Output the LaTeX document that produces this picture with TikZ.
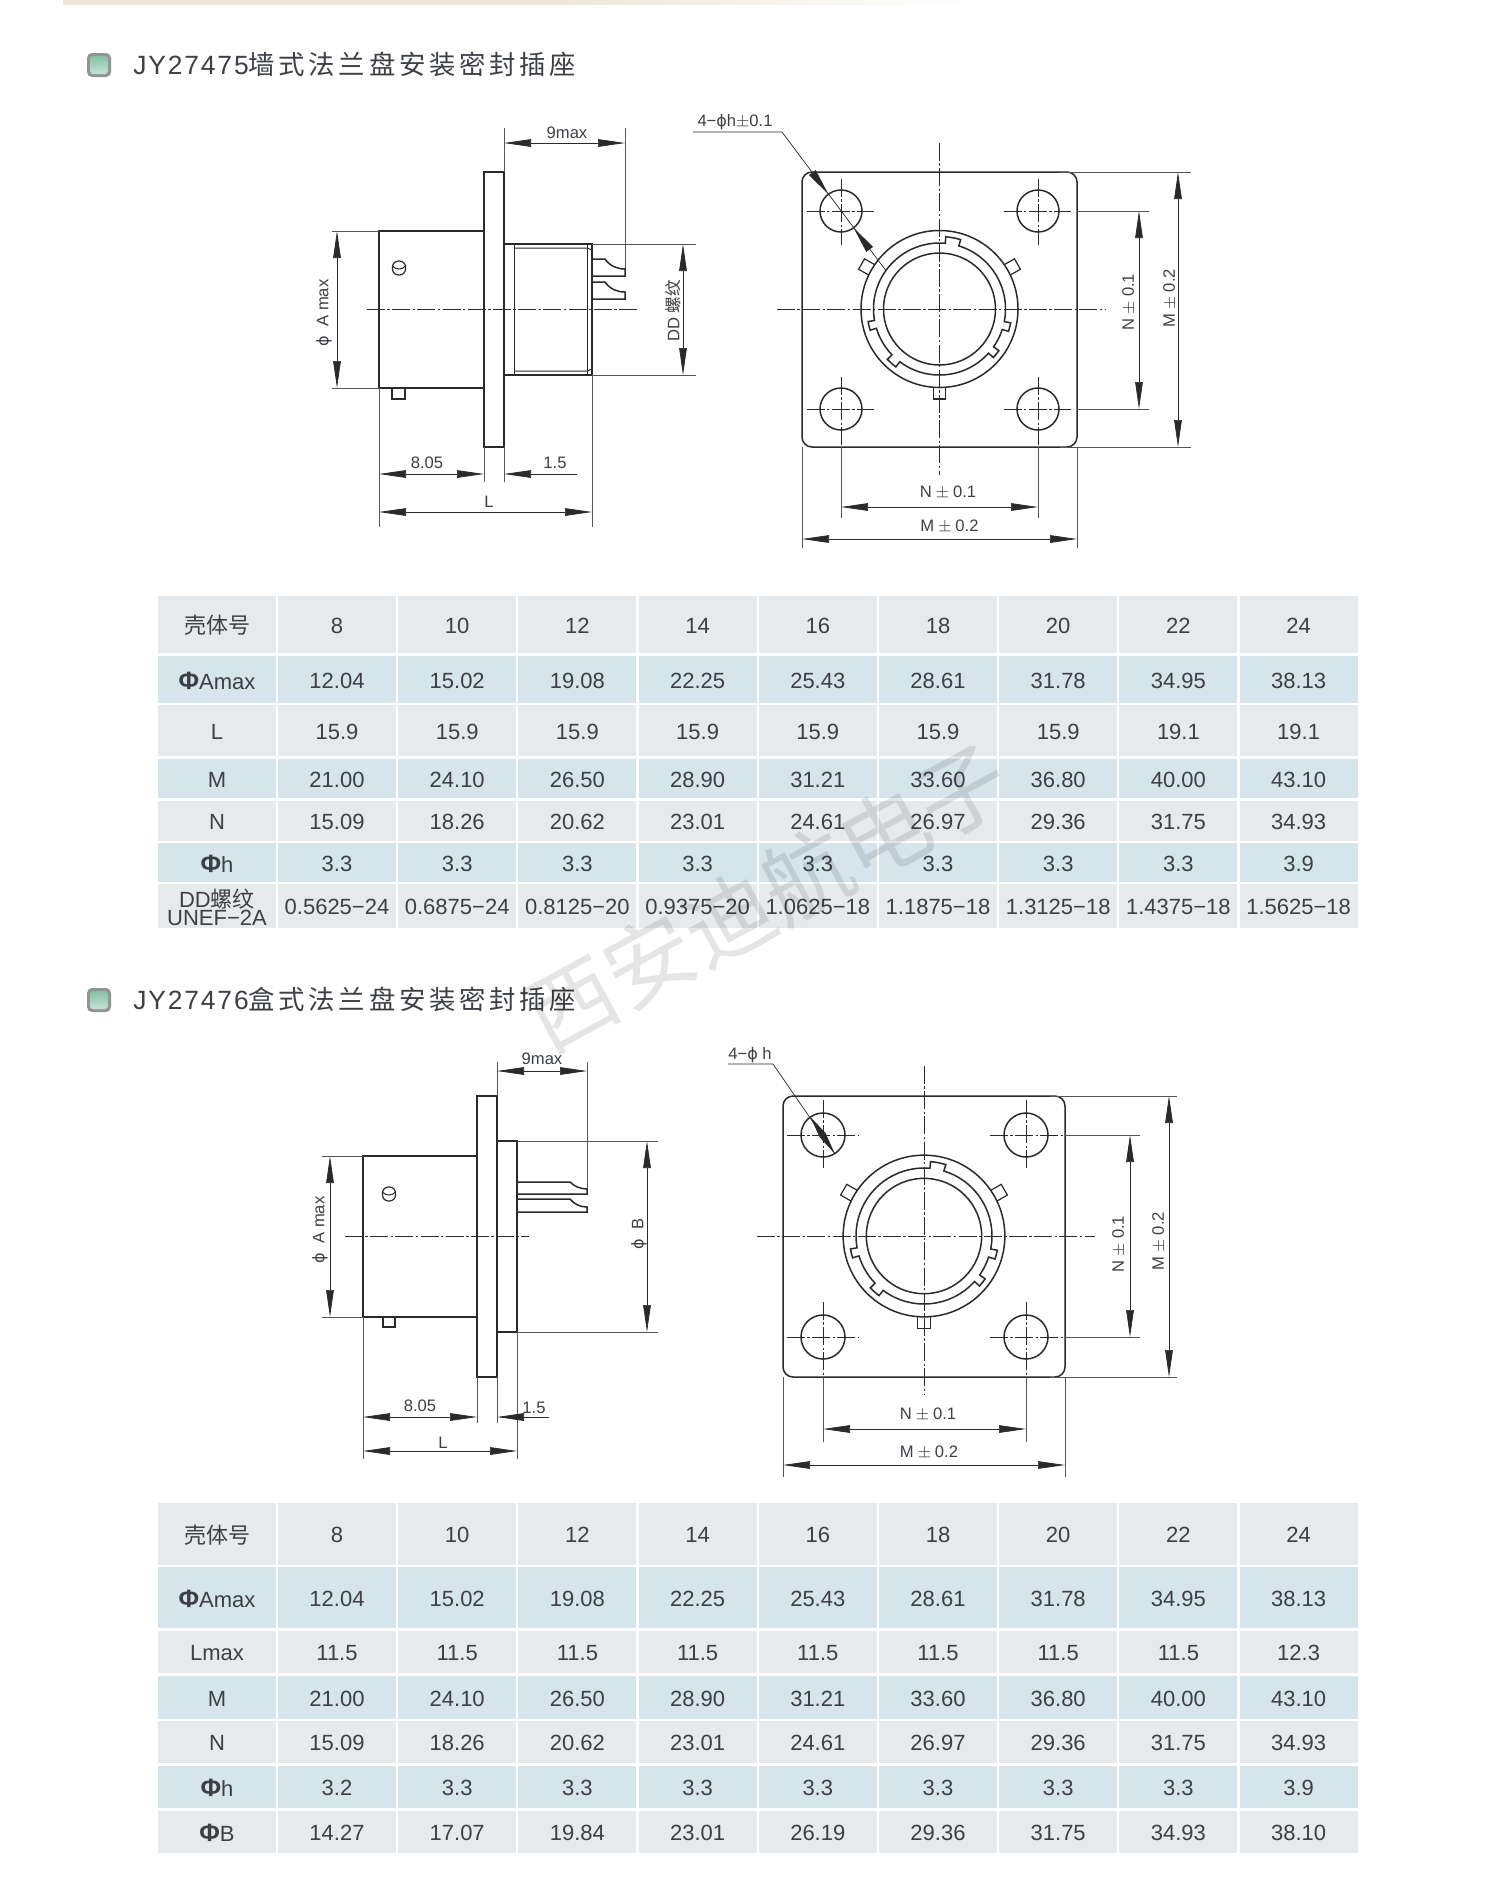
\documentclass[tikz,border=0pt]{standalone}
\usepackage{fontspec}
\setmainfont{Liberation Sans}
\newfontfamily\cjk{Noto Sans CJK SC}
\newfontfamily\cjkt[LetterSpace=14]{Noto Sans CJK SC}
\newfontfamily\latt[LetterSpace=7]{Liberation Sans}
\newfontfamily\phifont{DejaVu Sans}
\usetikzlibrary{arrows.meta,calc}
\definecolor{ink}{HTML}{3C4044}
\definecolor{rowgray}{HTML}{E6EAEC}
\definecolor{rowblue}{HTML}{D6E4EB}
\definecolor{linec}{HTML}{2A2A2A}
\definecolor{bandc}{HTML}{EDE6D6}
\definecolor{icongreen}{HTML}{86BFA6}
\definecolor{iconlight}{HTML}{C4E4D6}
\tikzset{
  part/.style={draw=linec,line width=0.75pt},
  thin part/.style={draw=linec,line width=0.5pt},
  dimline/.style={draw=linec,line width=0.35pt},
  extline/.style={draw=linec!80,line width=0.35pt},
  centerline/.style={draw=linec,line width=0.35pt,dash pattern=on 9pt off 1.2pt on 1.2pt off 1.2pt},
  dimarrow/.style={dimline,{Triangle[length=13.5pt,width=3.8pt]}-{Triangle[length=13.5pt,width=3.8pt]}},
  onearrow/.style={dimline,-{Triangle[length=13.5pt,width=3.8pt]}},
  dimtext/.style={text=ink,font=\fontsize{8.3}{9}\selectfont,inner sep=0pt},
  title/.style={text=ink,anchor=west,inner sep=0pt,font=\fontsize{13.2}{15}\selectfont},
  cell/.style={text=ink,inner sep=0pt,font=\fontsize{11}{11}\selectfont,align=center},
}
\newcommand\ph{{\phifont\fontsize{8}{8}\selectfont ϕ}}
\newcommand\PH{{\fontsize{12.5}{11}\selectfont\textbf{Φ}}}
\newcommand\pmgap{\hspace{2pt}$\pm$\hspace{2pt}}
% one table row: top, bottom, fill, name, cells
\newcommand\trow[5]{%
  \foreach \cellv [count=\ci from 0] in {#5} {
    \pgfmathsetmacro\xa{\ci==0?158:278+120.2*(\ci-1)}
    \pgfmathsetmacro\xb{\ci==0?276:396+120.2*(\ci-1)}
    \fill[#3] (\xa,#1) rectangle (\xb,#2);
    \node[cell] (#4c\ci) at ({(\xa+\xb)/2},{(#1+#2)/2+1}) {\cellv};
  }
}
% connector front view, local y-up coordinates
\newcommand\ringfig{%
  \draw[part] (0,0) circle (78.5);
  \draw[part] (0,0) circle (56);
  \draw[part] (85:66) arc[start angle=85,end angle=190,radius=66]
    -- (190:72.5) arc[start angle=190,end angle=197,radius=72.5]
    -- (197:66) arc[start angle=197,end angle=224,radius=66]
    -- (224:72.5) arc[start angle=224,end angle=233,radius=72.5]
    -- (233:66) arc[start angle=233,end angle=318,radius=66]
    -- (318:72.5) arc[start angle=318,end angle=325,radius=72.5]
    -- (325:66) arc[start angle=325,end angle=342,radius=66]
    -- (342:72.5) arc[start angle=342,end angle=349,radius=72.5]
    -- (349:66) arc[start angle=349,end angle=433,radius=66]
    -- (73:72.5) arc[start angle=73,end angle=85,radius=72.5] -- cycle;
  \foreach \a in {30,150,270} {
    \begin{scope}[rotate=-\a]
      \draw[part,line width=0.6pt] (78,-6) -- (90,-6) -- (90,6) -- (78,6);
    \end{scope}
  }
}
\begin{document}
\begin{tikzpicture}[x=0.5pt,y=-0.5pt]
\useasboundingbox (0,0) rectangle (1506,1903);
\fill[white] (0,0) rectangle (1506,1903);
\shade[left color=bandc,right color=white,middle color=bandc] (63,0) rectangle (985,4);

% ---- titles
\foreach \ya in {53,988} {
  \fill[gray!85,rounded corners=2.5pt] (87,\ya) rectangle (111,\ya+24);
  \shade[top color=icongreen,bottom color=iconlight,rounded corners=1.5pt] (90,\ya+3) rectangle (108,\ya+21);
}
\node[title] (title1) at (133,64) {{\latt JY27475}{\cjkt 墙式法兰盘安装密封插座}};
\node[title] (title2) at (133,999) {{\latt JY27476}{\cjkt 盒式法兰盘安装密封插座}};

% ---- first side view
\draw[part] (484,231) -- (379,231) -- (379,388) -- (484,388);
\draw[part] (484,172) rectangle (504,447);
\draw[part] (504,244) -- (592,244) -- (592,375) -- (504,375);
\draw[thin part] (514,244) -- (514,375);
\draw[thin part] (587,244) -- (587,375);
\draw[thin part] (514,248) -- (587,248) -- (592,250);
\draw[thin part] (514,371) -- (587,371) -- (592,369);
\draw[part] (592,259) -- (605,259) .. controls (610,266) and (617,269) .. (625,269) -- (625,276) -- (592,276);
\draw[part] (592,282) -- (605,282) .. controls (610,289) and (617,292) .. (625,292) -- (625,299) -- (592,299);
\draw[centerline] (367,309) -- (639,309);
\draw[part,line width=0.6pt] (392,388) -- (392,399) -- (405,399) -- (405,388);
\draw[part,line width=0.6pt,rounded corners=3pt] (392.5,261) rectangle (405.5,275);
\draw[part,line width=0.5pt] (392.5,266) .. controls (396,270) and (402,270) .. (405.5,266);
% dimensions
\draw[extline] (504,172) -- (504,128) (625,269) -- (625,128);
\draw[dimarrow] (504,143) -- (625,143);
\node[dimtext] (a9) at (567,133) {9max};
\draw[extline] (379,231) -- (332,231) (379,388) -- (332,388);
\draw[dimarrow] (337,231) -- (337,388);
\node[dimtext,rotate=90] (aA) at (324,313) {\ph\ \ A max};
\draw[extline] (592,244) -- (696,244) (592,375) -- (696,375);
\draw[dimarrow] (683,244) -- (683,375);
\node[dimtext,rotate=90] (aDD) at (673,311) {DD {\cjk 螺纹}};
\draw[extline] (379,388) -- (379,527) (484,447) -- (484,482) (504,447) -- (504,482) (592,375) -- (592,527);
\draw[dimarrow] (379,474) -- (484,474);
\node[dimtext] (a805) at (427,463) {8.05};
\draw[onearrow] (577,474) -- (504,474);
\node[dimtext] (a15) at (555,463) {1.5};
\draw[dimarrow] (379,512) -- (592,512);
\node[dimtext] (aL) at (489,502) {L};

% ---- first front view
\draw[part,rounded corners=5pt] (802,172) rectangle (1077,447);
\begin{scope}[shift={(939.5,309)},yscale=-1]
  \ringfig
\end{scope}
\foreach \hx/\hy in {841/211,1038/211,841/409,1038/409} {
  \draw[part] (\hx,\hy) circle (21);
}
\draw[centerline] (777,309) -- (1105.5,309);
\draw[centerline] (939.5,143) -- (939.5,475);
\draw[centerline] (806.5,211) -- (873.5,211) (1003.5,211) -- (1071,211);
\draw[centerline] (806.5,409) -- (873.5,409) (1003.5,409) -- (1071,409);
\draw[centerline] (841,179) -- (841,245) (1038,179) -- (1038,245);
\draw[centerline] (841,377) -- (841,447) (1038,377) -- (1038,447);
% leader
\coordinate (lda) at (693,132);
\coordinate (ldb) at (782,132);
\coordinate (ldc) at (885.5,270);
\draw[dimline] (lda) -- (ldb) -- (ldc);
\fill[linec] (828.4,194.2) -- ($(812.3,172.6)+(3.4,-2.5)$) -- ($(812.3,172.6)+(-3.4,2.5)$) -- cycle;
\fill[linec] (853.6,227.8) -- ($(869.7,249.4)+(3.4,-2.5)$) -- ($(869.7,249.4)+(-3.4,2.5)$) -- cycle;
\node[dimtext] (ah) at (735,122) {4−\ph h$\pm$0.1};
% dims
\draw[extline] (1077,211) -- (1148.5,211) (1077,409) -- (1148.5,409);
\draw[dimarrow] (1139,211) -- (1139,409);
\node[dimtext,rotate=90] (aN) at (1129,302) {N\pmgap 0.1};
\draw[extline] (1060,172) -- (1190.5,172) (1060,447) -- (1190.5,447);
\draw[dimarrow] (1178,172) -- (1178,447);
\node[dimtext,rotate=90] (aM) at (1170,298) {M\pmgap 0.2};
\draw[extline] (841,447) -- (841,518) (1038,447) -- (1038,518);
\draw[dimarrow] (841,507) -- (1038,507);
\node[dimtext] (aN2) at (948,493) {N\pmgap 0.1};
\draw[extline] (802,447) -- (802,548) (1077,447) -- (1077,548);
\draw[dimarrow] (802,539) -- (1077,539);
\node[dimtext] (aM2) at (949.5,527) {M\pmgap 0.2};

% ---- first table
\trow{596}{653}{rowgray}{ta}{{\cjk 壳体号},8,10,12,14,16,18,20,22,24}
\trow{656}{703}{rowblue}{tb}{\PH Amax,12.04,15.02,19.08,22.25,25.43,28.61,31.78,34.95,38.13}
\trow{705}{756}{rowgray}{tc}{L,15.9,15.9,15.9,15.9,15.9,15.9,15.9,19.1,19.1}
\trow{759}{798}{rowblue}{td}{M,21.00,24.10,26.50,28.90,31.21,33.60,36.80,40.00,43.10}
\trow{801}{841}{rowgray}{te}{N,15.09,18.26,20.62,23.01,24.61,26.97,29.36,31.75,34.93}
\trow{843}{882}{rowblue}{tf}{\PH h,3.3,3.3,3.3,3.3,3.3,3.3,3.3,3.3,3.9}
\trow{884}{928}{rowgray}{tg}{{DD{\cjk 螺纹}\\[-2pt]UNEF−2A},0.5625−24,0.6875−24,0.8125−20,0.9375−20,1.0625−18,1.1875−18,1.3125−18,1.4375−18,1.5625−18}

% ---- second side view
\draw[part] (477,1156) -- (363,1156) -- (363,1317) -- (477,1317);
\draw[part] (477,1096) rectangle (497,1377);
\draw[part] (497,1141) rectangle (517,1332);
\draw[part] (517,1182) -- (570,1182) .. controls (574,1186) and (580,1189) .. (587,1189) -- (587,1194) -- (517,1194);
\draw[part] (517,1199) -- (570,1199) .. controls (574,1204) and (580,1207) .. (587,1207) -- (587,1212) -- (517,1212);
\draw[centerline] (345,1236) -- (529,1236);
\draw[part,line width=0.6pt] (383,1317) -- (383,1327) -- (395,1327) -- (395,1317);
\draw[part,line width=0.6pt,rounded corners=3pt] (382.5,1187) rectangle (395.5,1201);
\draw[part,line width=0.5pt] (382.5,1192) .. controls (386,1196) and (392,1196) .. (395.5,1192);
\draw[extline] (497,1096) -- (497,1062) (587,1189) -- (587,1062);
\draw[dimarrow] (497,1071) -- (587,1071);
\node[dimtext] (b9) at (542,1059) {9max};
\draw[extline] (363,1156) -- (322,1156) (363,1317) -- (322,1317);
\draw[dimarrow] (330,1156) -- (330,1317);
\node[dimtext,rotate=90] (bA) at (320,1230) {\ph\ \ A max};
\draw[extline] (517,1141) -- (658,1141) (517,1332) -- (658,1332);
\draw[dimarrow] (647,1141) -- (647,1332);
\node[dimtext,rotate=90] (bB) at (639,1234) {\ph\ \ B};
\draw[extline] (363,1317) -- (363,1459) (477,1377) -- (477,1423) (497,1377) -- (497,1423) (517,1332) -- (517,1459);
\draw[dimarrow] (363,1417) -- (477,1417);
\node[dimtext] (b805) at (420,1406) {8.05};
\draw[onearrow] (549,1417) -- (497,1417);
\node[dimtext] (b15) at (534,1408) {1.5};
\draw[dimarrow] (363,1451) -- (517,1451);
\node[dimtext] (bL) at (443,1443) {L};

% ---- second front view
\draw[part,rounded corners=5pt] (783,1096) rectangle (1065,1377);
\begin{scope}[shift={(924,1236)},yscale=-1,scale=1.03]
  \ringfig
\end{scope}
\foreach \hx/\hy in {823/1135,1026/1135,823/1337,1026/1337} {
  \draw[part] (\hx,\hy) circle (22);
}
\draw[centerline] (757,1236) -- (1095,1236);
\draw[centerline] (924,1066) -- (924,1394);
\draw[centerline] (787,1135) -- (859,1135) (990,1135) -- (1065,1135);
\draw[centerline] (787,1337) -- (859,1337) (990,1337) -- (1065,1337);
\draw[centerline] (823,1100) -- (823,1170) (1026,1100) -- (1026,1170);
\draw[centerline] (823,1302) -- (823,1377) (1026,1302) -- (1026,1377);
\coordinate (lea) at (728,1064);
\coordinate (leb) at (773,1064);
\coordinate (lec) at (835,1154);
\draw[dimline] (lea) -- (leb) -- (lec);
\fill[linec] (810.5,1117) -- ($(822.5,1135)+(3,-2)$) -- ($(822.5,1135)+(-3,2)$) -- cycle;
\fill[linec] (835,1154) -- ($(822.5,1135)+(3,-2)$) -- ($(822.5,1135)+(-3,2)$) -- cycle;
\node[dimtext] (bh) at (750,1055) {4−\ph\ h};
\draw[extline] (1065,1135) -- (1140,1135) (1065,1337) -- (1140,1337);
\draw[dimarrow] (1130,1135) -- (1130,1337);
\node[dimtext,rotate=90] (bN) at (1119,1244) {N\pmgap 0.1};
\draw[extline] (1050,1096) -- (1177,1096) (1050,1377) -- (1177,1377);
\draw[dimarrow] (1169,1096) -- (1169,1377);
\node[dimtext,rotate=90] (bM) at (1159,1241) {M\pmgap 0.2};
\draw[extline] (823,1377) -- (823,1442) (1026,1377) -- (1026,1442);
\draw[dimarrow] (823,1429) -- (1026,1429);
\node[dimtext] (bN2) at (928,1415) {N\pmgap 0.1};
\draw[extline] (783,1377) -- (783,1477) (1065,1377) -- (1065,1477);
\draw[dimarrow] (783,1465) -- (1065,1465);
\node[dimtext] (bM2) at (929,1453) {M\pmgap 0.2};

% ---- second table
\trow{1503}{1565}{rowgray}{ua}{{\cjk 壳体号},8,10,12,14,16,18,20,22,24}
\trow{1567}{1628}{rowblue}{ub}{\PH Amax,12.04,15.02,19.08,22.25,25.43,28.61,31.78,34.95,38.13}
\trow{1631}{1673}{rowgray}{uc}{Lmax,11.5,11.5,11.5,11.5,11.5,11.5,11.5,11.5,12.3}
\trow{1676}{1719}{rowblue}{ud}{M,21.00,24.10,26.50,28.90,31.21,33.60,36.80,40.00,43.10}
\trow{1721}{1763}{rowgray}{ue}{N,15.09,18.26,20.62,23.01,24.61,26.97,29.36,31.75,34.93}
\trow{1766}{1808}{rowblue}{uf}{\PH h,3.2,3.3,3.3,3.3,3.3,3.3,3.3,3.3,3.9}
\trow{1811}{1853}{rowgray}{ug}{\PH B,14.27,17.07,19.84,23.01,26.19,29.36,31.75,34.93,38.10}

% ---- watermark
\node[rotate=28.5,text=black,text opacity=0.10,inner sep=0pt,font=\cjk\fontsize{44.5}{48}\selectfont] (wm) at (767,897) {西安迪航电子};
\end{tikzpicture}
\end{document}
